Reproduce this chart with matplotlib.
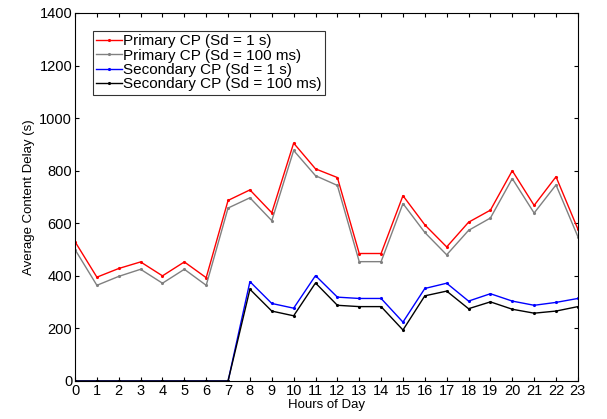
import matplotlib
matplotlib.use('Agg')
import matplotlib.pyplot as plt
import numpy as np

plt.rcParams['font.family'] = ['Liberation Sans', 'DejaVu Sans']

hours = list(range(24))

primary_1s = [530, 395, 428, 453, 400, 453, 393, 687, 727, 640, 905, 807,
              774, 485, 485, 705, 594, 510, 604, 650, 800, 668, 777, 578]
primary_100ms = [500, 364, 398, 425, 372, 425, 364, 658, 697, 610, 877, 781,
                 744, 454, 454, 675, 565, 480, 573, 620, 770, 639, 746, 549]
secondary_1s = [0, 0, 0, 0, 0, 0, 0, 0, 378, 295, 277, 401,
                319, 314, 314, 224, 352, 372, 304, 332, 304, 288, 299, 314]
secondary_100ms = [0, 0, 0, 0, 0, 0, 0, 0, 349, 266, 248, 373,
                   288, 283, 283, 194, 324, 342, 275, 301, 273, 258, 266, 283]

labels = ['Primary CP (Sd = 1 s)', 'Primary CP (Sd = 100 ms)',
          'Secondary CP (Sd = 1 s)', 'Secondary CP (Sd = 100 ms)']

fig = plt.figure(figsize=(6.07, 4.19), dpi=100)
ax = fig.add_axes([0.1236, 0.0907, 0.8284, 0.8783])

ax.plot(hours, primary_1s, '.-', color='red', lw=1, ms=2.5, label=labels[0])
ax.plot(hours, primary_100ms, '.-', color='gray', lw=1, ms=2.5, label=labels[1])
ax.plot(hours, secondary_1s, '.-', color='blue', lw=1, ms=2.5, label=labels[2])
ax.plot(hours, secondary_100ms, '.-', color='black', lw=1, ms=2.5, label=labels[3])

ax.set_xlim(0, 23)
ax.set_ylim(0, 1400)
ax.set_xticks(hours)
ax.set_yticks(np.arange(0, 1401, 200))
ax.tick_params(direction='in', top=True, right=True, labelsize=10.5, length=3, pad=2)
ax.set_xlabel('Hours of Day', fontsize=9.5, labelpad=1)
ax.set_ylabel('Average Content Delay (s)', fontsize=9.5, labelpad=3)

leg = ax.legend(loc='upper left', bbox_to_anchor=(0.035, 0.952), fontsize=11,
                frameon=True, fancybox=False, edgecolor='black',
                handlelength=1.7, handletextpad=0.05, borderpad=0.25,
                labelspacing=0.02, borderaxespad=0)
leg.get_frame().set_linewidth(0.8)

fig.savefig('out.png', dpi=100)
